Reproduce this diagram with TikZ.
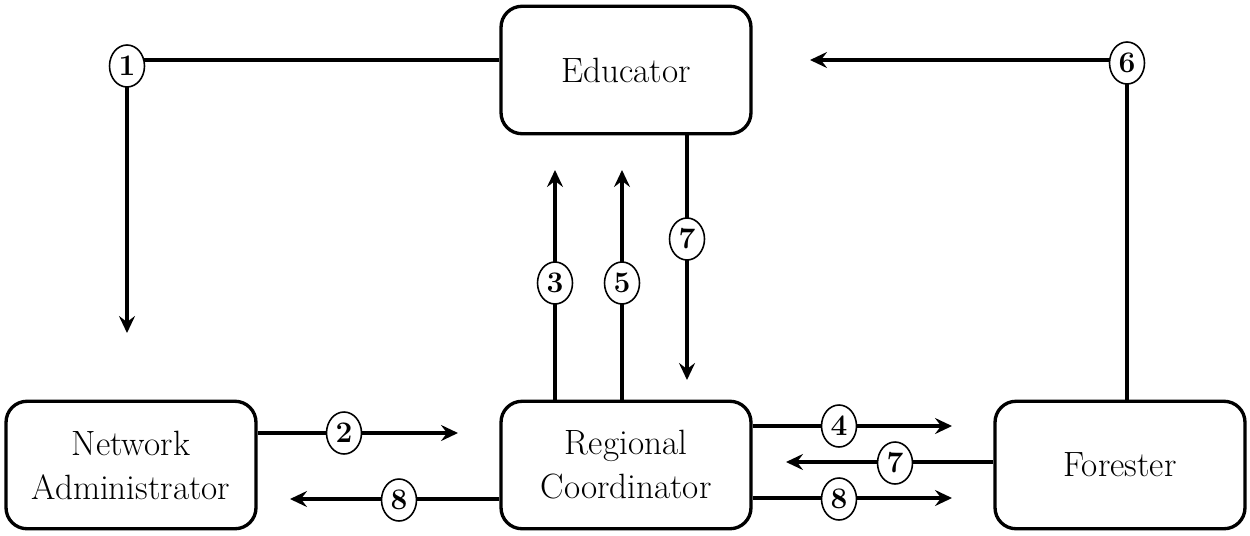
\documentclass[tikz,border=0pt]{standalone}
\usetikzlibrary{arrows.meta,shapes.geometric}
\begin{document}
\begin{tikzpicture}[x=0.02cm,y=-0.02cm,
 box/.style={draw,line width=1.9pt,rounded corners=0.42cm,minimum width=5.0cm,minimum height=2.55cm,align=center,inner sep=0pt,font=\fontsize{20}{25}\selectfont},
 num/.style={draw,ellipse,line width=0.9pt,fill=white,inner sep=0pt,minimum width=0.7cm,minimum height=0.84cm,font=\fontsize{17}{18}\selectfont\bfseries},
 conn/.style={line width=1.9pt},
 arr/.style={conn,-{Stealth[length=0.34cm,width=0.32cm,inset=0.12cm]}}]
\useasboundingbox (0,0) rectangle (1250,535);
\node[box] (edu) at (626,70) {Educator};
\node[box] (na) at (131,465) {Network\\Administrator};
\node[box] (rc) at (626,465) {Regional\\Coordinator};
\node[box] (fo) at (1120,465) {Forester};
% 1
\coordinate (c1) at (127,60);
\coordinate (e1) at (127,333);
\draw[arr] (edu.west |- c1) -- (c1) -- (e1);
\node[num] (n1) at (127,66) {1};
% 6
\coordinate (c6) at (1127,60);
\coordinate (e6) at (810,60);
\draw[arr] (c6 |- fo.north) -- (c6) -- (e6);
\node[num] (n6) at (1127,63) {6};
% 3 and 5
\coordinate (e3) at (555,170);
\draw[arr] (e3 |- rc.north) -- (e3);
\node[num] (n3) at (555,283) {3};
\coordinate (e5) at (622,170);
\draw[arr] (e5 |- rc.north) -- (e5);
\node[num] (n5) at (622,283) {5};
% 7 vertical
\coordinate (e7) at (687,380);
\draw[arr] (e7 |- edu.south) -- (e7);
\node[num] (n7a) at (687,239) {7};
% 2
\coordinate (e2) at (458,433);
\draw[arr] (na.east |- e2) -- (e2);
\node[num] (n2) at (344,433) {2};
% 8 left
\coordinate (e8a) at (290,499);
\draw[arr] (rc.west |- e8a) -- (e8a);
\node[num] (n8a) at (399,500) {8};
% 4
\coordinate (e4) at (952,426);
\draw[arr] (rc.east |- e4) -- (e4);
\node[num] (n4) at (839,426) {4};
% 7 horizontal
\coordinate (e7b) at (786,462);
\draw[arr] (fo.west |- e7b) -- (e7b);
\node[num] (n7b) at (895,463) {7};
% 8 right
\coordinate (e8b) at (952,498);
\draw[arr] (rc.east |- e8b) -- (e8b);
\node[num] (n8b) at (839,499) {8};
\end{tikzpicture}
\end{document}
